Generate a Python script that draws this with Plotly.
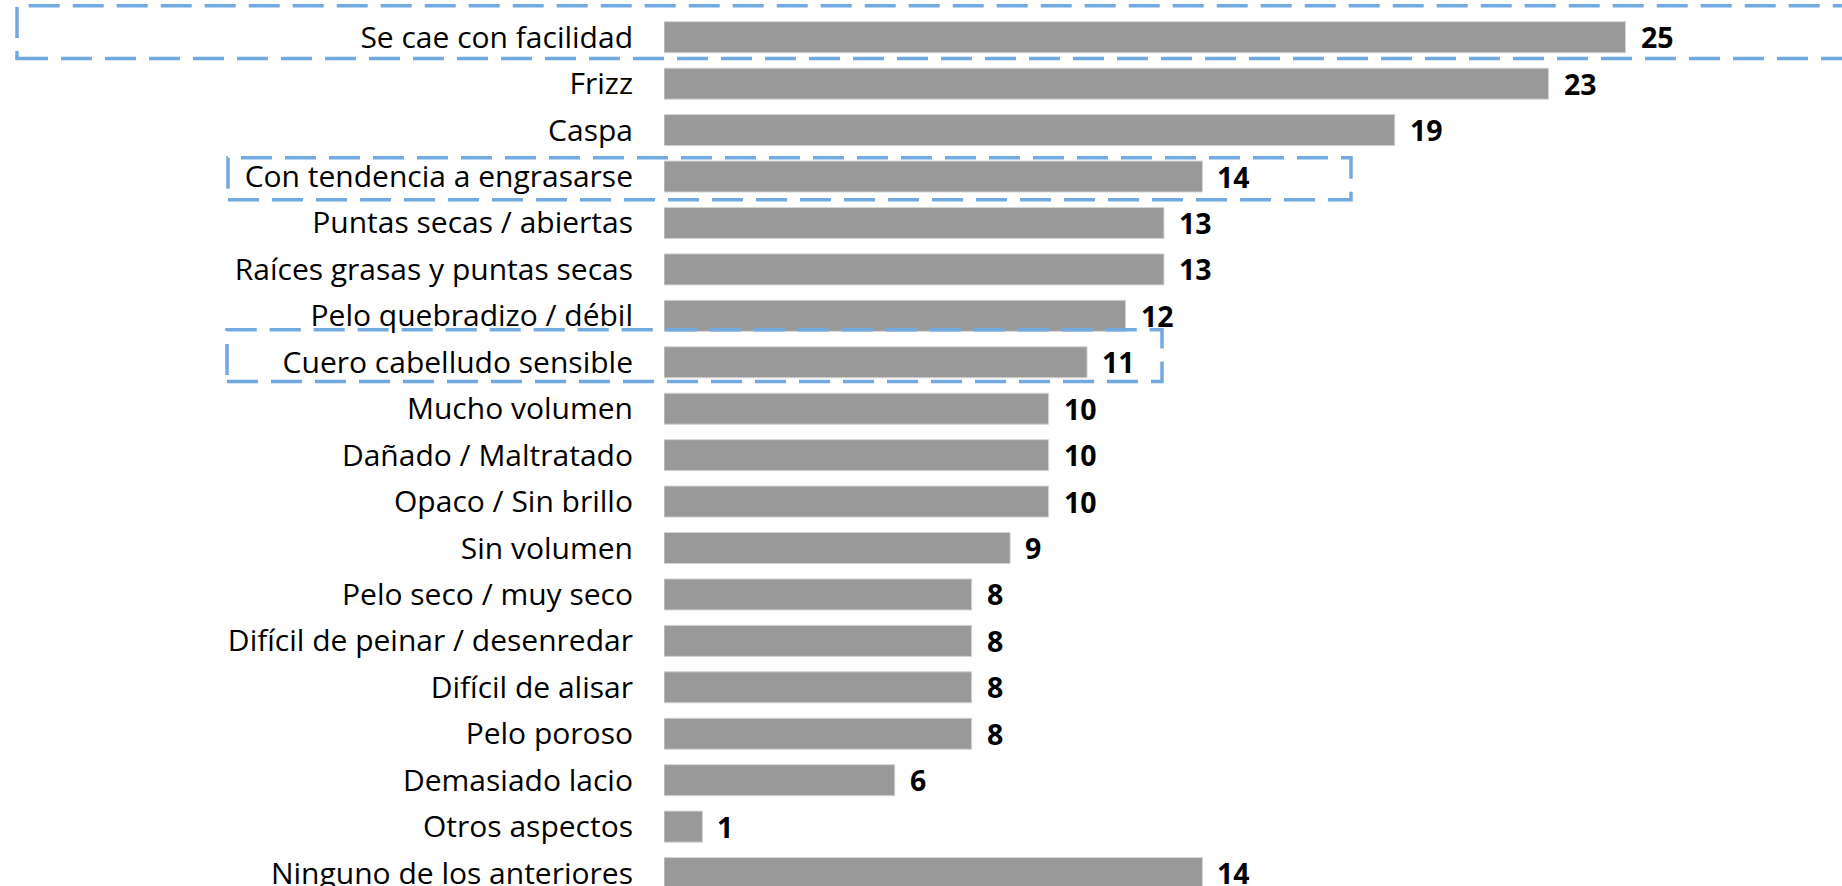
import plotly.graph_objects as go

categories = [
    "Se cae con facilidad",
    "Frizz",
    "Caspa",
    "Con tendencia a engrasarse",
    "Puntas secas / abiertas",
    "Raíces grasas y puntas secas",
    "Pelo quebradizo / débil",
    "Cuero cabelludo sensible",
    "Mucho volumen",
    "Dañado / Maltratado",
    "Opaco / Sin brillo",
    "Sin volumen",
    "Pelo seco / muy seco",
    "Difícil de peinar / desenredar",
    "Difícil de alisar",
    "Pelo poroso",
    "Demasiado lacio",
    "Otros aspectos",
    "Ninguno de los anteriores",
]
values = [25, 23, 19, 14, 13, 13, 12, 11, 10, 10, 10, 9, 8, 8, 8, 8, 6, 1, 14]
highlighted = ["Se cae con facilidad", "Con tendencia a engrasarse", "Cuero cabelludo sensible"]

W, H = 1842, 886
PL, PT = 664, 14.29          # plot-area top-left in screen pixels
PW, PH = W - PL, H - PT
PX_PER_UNIT = 38.46
PITCH = 46.42

FONT = "Open Sans, Arial, sans-serif"

fig = go.Figure()
fig.add_trace(go.Bar(
    x=values, y=categories, orientation="h",
    marker=dict(color="#999999", line=dict(color="#d4d4d4", width=1)),
    hoverinfo="x+y",
))

for c, v in zip(categories, values):
    fig.add_annotation(
        x=v, y=c, xref="x", yref="y", text=str(v), showarrow=False,
        xanchor="left", yanchor="middle", xshift=13,
        font=dict(family=FONT, size=28.5, color="#000000", weight="bold"),
    )

# dashed highlight boxes (screen pixel positions -> paper coordinates)
boxes_px = {
    "Se cae con facilidad": (17, 6, 1860, 58.7),
    "Con tendencia a engrasarse": (228, 158, 1351, 200),
    "Cuero cabelludo sensible": (227, 330, 1162, 381.7),
}

def px2paper(x, y):
    return (x - PL) / PW, 1 - (y - PT) / PH

for name in highlighted:
    x0, y0, x1, y1 = boxes_px[name]
    px0, py0 = px2paper(x0, y0)
    px1, py1 = px2paper(x1, y1)
    fig.add_shape(
        type="rect", xref="paper", yref="paper",
        x0=px0, x1=px1, y0=py1, y1=py0,
        line=dict(color="#72A9E0", width=3.5, dash="31px,13px"),
        fillcolor="rgba(0,0,0,0)", layer="above",
    )

fig.update_layout(
    width=W, height=H,
    margin=dict(l=PL, r=0, t=PT, b=0, pad=0, autoexpand=False),
    plot_bgcolor="white", paper_bgcolor="white",
    bargap=1 - 31 / PITCH,
    showlegend=False,
    font=dict(family=FONT, size=30, color="#000000"),
    xaxis=dict(range=[0, PW / PX_PER_UNIT], visible=False, fixedrange=True),
    yaxis=dict(
        type="category", categoryorder="array", categoryarray=categories,
        range=[-0.5 + PH / PITCH, -0.5],
        showgrid=False, zeroline=False, showline=False, ticks="",
        ticklabelstandoff=30,
        tickfont=dict(family=FONT, size=30, color="#000000"),
        fixedrange=True,
    ),
)

fig.write_html(
    "out.html",
    config={"displayModeBar": False},
    post_script="document.body.style.margin='0px'; document.body.style.overflow='hidden';",
)
